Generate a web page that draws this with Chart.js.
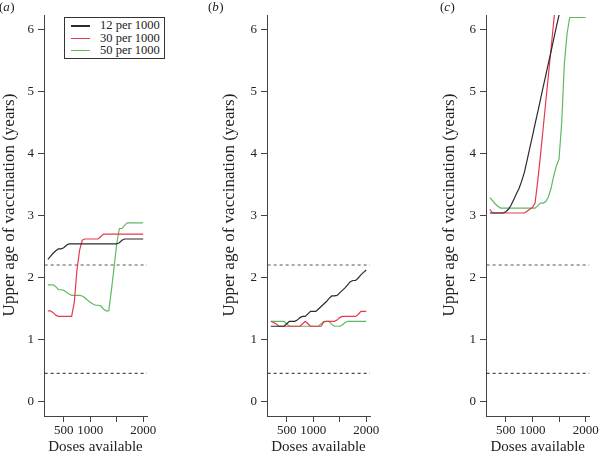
<!DOCTYPE html>
<html>
<head>
<meta charset="utf-8">
<script src="https://cdn.jsdelivr.net/npm/chart.js@4/dist/chart.umd.min.js"></script>
<style>
  body { margin: 0; background: #fff; }
  .panel { position: absolute; top: 0; width: 200px; height: 455px; }
  #legendA {
    position: absolute; left: 64px; top: 17px; width: 99px; height: 40px;
    border: 1px solid #333; background: #fff;
    font: 12.5px "Liberation Serif", serif; color: #222;
  }
  #legendA .row { position: absolute; left: 0; height: 13px; }
  #legendA .swatch { position: absolute; left: 6px; top: 6px; width: 19px; height: 0; border-top: 1px solid; }
  #legendA .lbl { position: absolute; left: 35px; top: 0; white-space: nowrap; line-height: 13px; }
</style>
</head>
<body>
<div class="panel" style="left:0"><canvas id="chartA" width="200" height="455"></canvas></div>
<div class="panel" style="left:200px"><canvas id="chartB" width="200" height="455"></canvas></div>
<div class="panel" style="left:400px"><canvas id="chartC" width="200" height="455"></canvas></div>
<div id="legendA"></div>
<script>
// doses on the x axis, every 50 from 200 to 2000
const doses = [200, 250, 300, 350, 400, 450, 500, 550, 600, 650, 700, 750, 800, 850, 900, 950,
  1000, 1050, 1100, 1150, 1200, 1250, 1300, 1350, 1400, 1450, 1500, 1550, 1600, 1650, 1700,
  1750, 1800, 1850, 1900, 1950, 2000];

const seriesNames = ['12 per 1000', '30 per 1000', '50 per 1000'];
const seriesColors = ['#2b2b2b', '#e53a4e', '#62b862'];
const legendWidths = [2, 1, 1];

// panel (a)
const a12 = [2.29, 2.34, 2.39, 2.43, 2.46, 2.46, 2.48, 2.52, 2.54, 2.54, 2.54, 2.54, 2.54, 2.54,
  2.54, 2.54, 2.54, 2.54, 2.54, 2.54, 2.54, 2.54, 2.54, 2.54, 2.54, 2.54, 2.54, 2.56, 2.60, 2.62,
  2.62, 2.62, 2.62, 2.62, 2.62, 2.62, 2.62];
const a30 = [1.46, 1.46, 1.43, 1.39, 1.37, 1.37, 1.37, 1.37, 1.37, 1.37, 1.60, 2.12, 2.44, 2.60,
  2.62, 2.62, 2.62, 2.62, 2.62, 2.62, 2.66, 2.70, 2.70, 2.70, 2.70, 2.70, 2.70, 2.70, 2.70, 2.70,
  2.70, 2.70, 2.70, 2.70, 2.70, 2.70, 2.70];
const a50 = [1.88, 1.88, 1.88, 1.85, 1.80, 1.80, 1.79, 1.76, 1.73, 1.71, 1.71, 1.71, 1.71, 1.70,
  1.67, 1.63, 1.60, 1.57, 1.55, 1.55, 1.54, 1.49, 1.46, 1.46, 1.79, 2.16, 2.54, 2.79, 2.79, 2.84,
  2.88, 2.88, 2.88, 2.88, 2.88, 2.88, 2.88];

// panel (b)
const b12 = [1.21, 1.21, 1.21, 1.21, 1.21, 1.21, 1.25, 1.29, 1.29, 1.29, 1.31, 1.35, 1.37, 1.37,
  1.41, 1.45, 1.45, 1.45, 1.49, 1.53, 1.57, 1.61, 1.66, 1.70, 1.70, 1.71, 1.75, 1.79, 1.83, 1.88,
  1.93, 1.95, 1.95, 1.99, 2.04, 2.08, 2.12];
const b30 = [1.29, 1.27, 1.25, 1.21, 1.21, 1.21, 1.21, 1.21, 1.21, 1.21, 1.21, 1.21, 1.25, 1.29,
  1.25, 1.21, 1.21, 1.21, 1.21, 1.21, 1.28, 1.29, 1.29, 1.29, 1.29, 1.31, 1.35, 1.37, 1.37, 1.37,
  1.37, 1.37, 1.37, 1.40, 1.45, 1.45, 1.45];
const b50 = [1.29, 1.29, 1.29, 1.29, 1.29, 1.29, 1.25, 1.21, 1.21, 1.21, 1.21, 1.21, 1.21, 1.21,
  1.21, 1.21, 1.21, 1.21, 1.21, 1.25, 1.29, 1.29, 1.29, 1.24, 1.21, 1.21, 1.21, 1.23, 1.27, 1.29,
  1.29, 1.29, 1.29, 1.29, 1.29, 1.29, 1.29];

// panel (c) - lines run off the top of the plot
const c12 = [3.04, 3.04, 3.04, 3.04, 3.04, 3.04, 3.06, 3.10, 3.17, 3.26, 3.35, 3.44, 3.56, 3.70,
  3.89, 4.09, 4.28, 4.48, 4.67, 4.87, 5.07, 5.26, 5.46, 5.65, 5.85, 6.05, 6.24, 6.44, null, null,
  null, null, null, null, null, null, null];
const c30 = [3.10, 3.04, 3.04, 3.04, 3.04, 3.04, 3.04, 3.04, 3.04, 3.04, 3.04, 3.04, 3.04, 3.04,
  3.07, 3.10, 3.13, 3.20, 3.56, 3.96, 4.39, 4.83, 5.26, 5.69, 6.13, 6.56, null, null, null, null,
  null, null, null, null, null, null, null];
const c50 = [3.29, 3.24, 3.19, 3.15, 3.12, 3.12, 3.12, 3.12, 3.12, 3.12, 3.12, 3.12, 3.12, 3.12,
  3.12, 3.12, 3.12, 3.12, 3.16, 3.20, 3.20, 3.22, 3.30, 3.44, 3.64, 3.80, 3.91, 4.50, 5.45, 5.93,
  6.20, 6.20, 6.20, 6.20, 6.20, 6.20, 6.20];

// dashed reference levels
const refLevels = [2.2, 0.45];
const refColors = ['#555', '#222'];
const refDoseSpan = [140, 2072];

const xTickValues = [500, 1000, 1500, 2000];
const xTickLabels = ['500', '1000', '', '2000'];
const yTickValues = [0, 1, 2, 3, 4, 5, 6];

const serif = '"Liberation Serif", "Times New Roman", serif';
const axisColor = '#444';

function seriesSet(values, i) {
  return {
    data: doses.map((d, k) => ({ x: d, y: values[k] })),
    borderColor: seriesColors[i],
    borderWidth: 1.2,
    pointRadius: 0,
    spanGaps: false
  };
}

function refSet(level, i) {
  return {
    data: refDoseSpan.map(d => ({ x: d, y: level })),
    borderColor: refColors[i],
    borderWidth: 1,
    borderDash: [3, 3],
    pointRadius: 0
  };
}

// y title and panel letter, drawn by hand so they sit where the figure has them
const panelText = {
  id: 'panelText',
  afterDraw(chart, args, opts) {
    const ctx = chart.ctx;
    ctx.save();
    ctx.fillStyle = '#222';
    ctx.font = '17px ' + serif;
    ctx.translate(opts.titleX, 205);
    ctx.rotate(-Math.PI / 2);
    ctx.textAlign = 'center';
    ctx.textBaseline = 'middle';
    ctx.fillText('Upper age of vaccination (years)', 0, 0);
    ctx.restore();

    ctx.save();
    ctx.fillStyle = '#222';
    ctx.textBaseline = 'middle';
    ctx.textAlign = 'left';
    let x = opts.labelX;
    ctx.font = '13px ' + serif;
    ctx.fillText('(', x, 8);
    x += ctx.measureText('(').width;
    ctx.font = 'italic 13px ' + serif;
    ctx.fillText(opts.letter, x, 8);
    x += ctx.measureText(opts.letter).width + 0.5;
    ctx.font = '13px ' + serif;
    ctx.fillText(')', x, 8);
    ctx.restore();
  }
};

function makePanel(id, series, cfg) {
  const datasets = series.map((s, i) => seriesSet(s, i))
    .concat(refLevels.map(refSet));
  return new Chart(document.getElementById(id), {
    type: 'line',
    data: { datasets: datasets },
    options: {
      responsive: false,
      animation: false,
      events: [],
      layout: {
        autoPadding: false,
        padding: { left: cfg.padLeft, right: cfg.padRight, top: 15, bottom: 0 }
      },
      plugins: {
        legend: { display: false },
        tooltip: { enabled: false },
        panelText: { titleX: cfg.titleX, labelX: cfg.labelX, letter: cfg.letter }
      },
      scales: {
        x: {
          type: 'linear',
          min: 128,
          max: 2072,
          afterBuildTicks: s => { s.ticks = xTickValues.map(v => ({ value: v })); },
          afterFit: s => { s.height = 39; },
          ticks: {
            autoSkip: false,
            maxRotation: 0,
            padding: 1,
            color: '#222',
            font: { family: serif, size: 13 },
            callback: (v, i) => xTickLabels[i]
          },
          grid: { drawOnChartArea: false, tickLength: 6, color: axisColor },
          border: { color: axisColor, width: 1 },
          title: {
            display: true,
            text: 'Doses available',
            color: '#222',
            font: { family: serif, size: 15, lineHeight: 1 },
            padding: 0
          }
        },
        y: {
          type: 'linear',
          min: -0.24,
          max: 6.24,
          afterBuildTicks: s => { s.ticks = yTickValues.map(v => ({ value: v })); },
          afterFit: s => { s.width = cfg.yWidth; },
          ticks: {
            padding: 4,
            color: '#222',
            font: { family: serif, size: 13 }
          },
          grid: { drawOnChartArea: false, tickLength: 6, color: axisColor },
          border: { color: axisColor, width: 1 }
        }
      }
    },
    plugins: [panelText]
  });
}

makePanel('chartA', [a12, a30, a50], { padLeft: 0, yWidth: 44, padRight: 53, titleX: 9.5, labelX: -1, letter: 'a' });
makePanel('chartB', [b12, b30, b50], { padLeft: 20, yWidth: 47, padRight: 30, titleX: 29.5, labelX: 8, letter: 'b' });
makePanel('chartC', [c12, c30, c50], { padLeft: 40, yWidth: 46, padRight: 10, titleX: 49.5, labelX: 40, letter: 'c' });

// legend for panel (a)
const legendBox = document.getElementById('legendA');
seriesNames.forEach((name, i) => {
  const row = document.createElement('div');
  row.className = 'row';
  row.style.top = (1 + i * 12.6) + 'px';
  row.style.width = '99px';
  row.innerHTML = '<span class="swatch" style="border-color:' + seriesColors[i] +
    ';border-top-width:' + legendWidths[i] + 'px"></span>' +
    '<span class="lbl">' + name + '</span>';
  legendBox.appendChild(row);
});
</script>
</body>
</html>
